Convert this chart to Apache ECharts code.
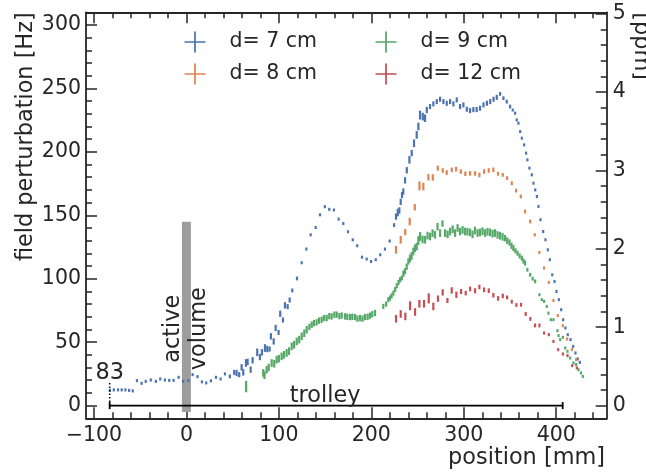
<!DOCTYPE html>
<html>
<head>
<meta charset="utf-8">
<script src="https://cdn.jsdelivr.net/npm/echarts@6/dist/echarts.min.js"></script>
<style>
  html, body { margin: 0; padding: 0; background: #ffffff; }
  #chart { width: 646px; height: 474px; }
</style>
</head>
<body>
<div id="chart"></div>
<script>
// Field perturbation along the trolley path, one errorbar series per distance d.
// Each point: [position in mm, perturbation in Hz, half error in Hz]
const seriesNames = ['d= 7 cm', 'd= 8 cm', 'd= 9 cm', 'd= 12 cm'];
const seriesColors = ['#4C72B0', '#DD8452', '#55A868', '#C44E52'];

const d7 = [
  [-82.8,12,1.2],[-78.5,12.4,1.2],[-74,12.4,1.2],[-70,12.4,1.2],[-66,12.4,1.2],[-62,12,1.2],[-58,11.6,1.2],
  [-53.5,19.7,1.2],[-48.5,17.6,1.2],[-44,19.1,1.2],[-38.5,20.2,1.2],[-33,19.1,1.2],[-28.3,21,1.2],
  [-23.3,20.2,1.2],[-18.6,19.9,1.2],[-13.9,19.9,1.2],[-8.4,22.3,1.2],[-3.5,19.1,1.2],[2,19.7,1.2],
  [6.7,24.4,1.2],[12,22.8,1.2],[16.8,18.7,1.2],[21.4,17.9,1.2],[26.5,19.5,1.2],[32,22.3,1.2],[37,21,1.2],
  [41.7,25,1.2],[47,23,1.5],[51.7,26.2,2],[54.3,25.7,2.5],[57.1,24.4,2],[59.7,30.2,2.5],[61.5,26.2,2.5],
  [64.4,33.6,3],[66.2,34.4,2.5],[69.5,28.3,2.5],[71.6,35.7,2.5],[76.6,42,3],[79.5,38.3,2.5],[81.7,42,2.5],
  [85,45.4,3],[87.5,44.6,2.5],[90,44.6,2],[91.4,54.6,2.5],[94.4,50.6,2.5],[96.5,61.2,2.5],[99.7,57.7,2],
  [101.5,72.4,2.5],[104.4,67.5,2],[106.6,79,2.5],[109.5,78,2],[111.7,83.2,2],[114.5,90.8,1.5],
  [119.6,100.2,1.5],[124.7,112.6,1.2],[129.7,123.4,1.2],[134.4,134.6,1.2],[139.8,140.4,1.2],
  [144.5,150.4,1.2],[149.7,156.8,1.2],[154.5,154.7,1.2],[159.6,154.2,1.2],[164.7,147,1.2],
  [169.7,143.5,1.2],[174.8,137,1.2],[179.9,130.7,1.2],[184.8,126,1.2],[189.9,117,1.2],[195,115.5,1.2],
  [199.7,113.6,1.2],[204.8,115,1.2],[209.7,118.9,1.2],[214.8,123.4,1.2],[219.9,129.7,1.2],
  [224.6,142.3,1.5],[226.7,149,2.5],[228.6,152.2,3],[230.3,153.8,2.5],[231.8,160.6,2.5],[233.2,166,2.5],
  [234.6,168.7,2.5],[236.5,177.5,2.5],[238.4,185.5,2.5],[241.2,193.7,3],[243.7,199,2.5],[246.2,206.8,3],
  [249.1,213.4,3],[250.9,220,3],[252.7,229,3.5],[255.7,227.8,3],[258.1,226.5,3],[260,233,2.5],
  [263.5,235.7,2],[267.1,237.8,2],[270.8,239.6,2],[274.4,241.5,2],[278,239.6,2],[281.6,238.3,2],
  [285.2,239.6,2],[288.8,237.8,2],[292.4,241,2],[296,235.7,2],[299.6,237,2],[303.3,233.6,2],
  [306.8,232.5,2],[310.4,233.3,2],[314,233.3,2],[317.6,234.4,2],[321.3,237,2],[325,238.3,2],
  [328.6,239.6,2],[332.2,241.5,2],[335.7,243,2],[339.3,245.7,1.5],[342.9,242.3,1.5],[346.5,239.6,1.5],
  [350.1,235.7,1.5],[353,233,1.2],[355.5,230.5,1.2],[357.3,225.2,1.2],[359.1,222.6,1.2],[361,216,1.2],
  [362.8,210.8,1.2],[365.3,205.5,1.2],[367.4,199,1.2],[368.8,193.7,1.2],[371,187.2,1.2],[373.6,181.9,1.2],
  [375.4,175.3,1.2],[377.3,170,1.2],[379.1,164.8,1.2],[380.8,157,1.2],[383,146.5,1.2],[385.9,137.2,1.2],
  [388.4,130.7,1.2],[390.9,122.8,1.2],[393.1,115,1.2],[395.7,103.1,1.2],[398.2,97.9,1.2],[400.3,90,1.2],
  [402.8,83.5,1.2],[405.4,75.6,1.2],[407.5,67.7,1.2],[410,61.2,1.2],[412.5,55.9,1.2],[415.5,52,1.2],
  [418.3,46.7,1.2],[420.8,41.5,1.2],[423.3,36.8,1.2],[425.5,34.1,1.2]
];

const d8 = [
  [226.7,122.8,3],[231.8,130.7,3],[236.7,136.8,2.5],[241.5,145.1,3],[247,156.3,2.5],[252.1,173.2,3.5],
  [256.3,172.6,3],[261.7,180,2.5],[266.5,179.8,2.5],[271.9,187.2,2],[277.3,185.3,1.8],[281.6,183.7,1.8],
  [287,185.8,1.8],[291.7,186.4,1.8],[296.8,184.5,1.8],[301.7,182.7,1.8],[306.8,183,1.8],[312.2,183,1.8],
  [316.9,181.8,1.8],[322,184.5,1.8],[327,185.3,1.8],[332,185.8,1.8],[337.1,182.7,1.5],[342.2,181.9,1.5],
  [346.9,179.3,1.5],[351.9,175.3,1.5],[356.6,169.5,1.5],[361.7,164.8,1.5],[366.3,153,1.5],
  [371.8,145.1,1.5],[376.8,134.6,1.2],[381.8,120.7,1.2],[386.9,108.4,1.2],[392,97.1,1.2],[397,82.9,1.2],
  [401.7,70.9,1.2],[407.1,63,1.2],[411.8,52.5,1.2],[416.9,44.1,1.2],[421.5,36.2,1.2]
];

const d9 = [
  [64.6,15,4.5],
  [83.1,25.7,3],[84.5,24,3],[86.8,28.3,3],[89,30,3],[92.2,33.6,3],[95,33,3],[97.6,36.2,3],[100,37,3],
  [103,38.8,3],[105.5,40,3],[108.4,41.5,3],[111,43,3],[113.9,46.7,3],[116.5,48,3],[119.3,50.6,3],
  [122,52,3],[124.7,54.6,3],[127.5,57,3],[130.1,59.8,3],[133,62,2.5],[135.5,63.8,2.5],[138,65,2.5],
  [140.9,65.6,2.5],[143.5,67,2.5],[146.3,67.7,2.5],[149,69,2.5],[151.7,69,2.5],[154.5,70.5,2.5],
  [157.1,70.3,2.5],[160,71.7,2.5],[162.6,71.7,2.5],[165.5,70.5,2.5],[168,71,2.5],[171.5,70.3,2.5],
  [174,70,2.5],[176.9,69.8,2.5],[179.5,70,2.5],[182.4,69.8,2.5],[185,68.5,2.5],[187.8,69,2.5],
  [190.5,68.5,2.5],[193.2,69.8,2.5],[196,70,2.5],[198.6,70.9,2.5],[201,72,2.5],[204,73,2.5],
  [213,78.2,2],[216,80,2],[218.4,83.5,2],[220.3,84.8,2],[222,86.5,2],[223.9,88.7,2],[225.8,91.5,2],
  [227.6,94.5,2],[229.4,97,2],[231.1,99.2,2],[233,100.6,2],[234.7,104,2.5],[236.5,106,2.5],
  [238.3,109.5,2.5],[240.1,113.6,2.5],[241.8,116,3],[243.6,118,3],[245.5,121.5,3],[247.2,124,3],
  [249.1,125.4,3],[250.9,130,3.5],[252.7,133.3,3.5],[255.4,131,3],[258.1,130.7,3],[260.8,134,3],
  [263.5,133.3,3],[266.2,136,3],[268.9,134.6,3],[271.6,141,3],[274.4,136,3],[277,143.5,2.5],
  [279.8,136,3],[282.5,135,3],[285.2,137.2,3],[288,139,3],[290.6,136,3],[293.3,140,3],[296,137.2,3],
  [298.7,138.5,3],[301.4,137.2,3],[304,137,3],[306.8,136.5,3],[309.5,135,3],[312.2,138,3],[315,136,3],
  [317.6,136.5,3],[320.3,137.5,3],[323,136,3],[325.7,137,3],[328.5,136.5,3],[331.2,135.5,3],
  [333.9,136,3],[336.6,134.5,3],[339.3,133.9,3],[342,133,3],[344.7,132,2.5],[347,130,2.5],
  [349.4,128.6,2.5],[351.6,126,2.5],[353.7,124.2,2.5],[355.9,122,2],[358.1,120.2,2],[360.4,118,2],
  [362.8,116.3,2],[364.5,114,2],[366.3,112.4,2],[368.8,107.1,1.5],[371.8,103.1,1.5],[374.5,100,1.5],
  [377.2,97.9,1.5],[381.8,87.4,1.2],[384.4,83.5,1.2],[386.9,82.2,1.2],[389.8,78.2,1.2],[391.6,72.9,1.2],
  [394.2,67.7,1.2],[397,67.7,1.2],[401.3,59.1,1.2],[402.5,55.1,1.2],[404.3,52,1.2],[407.2,53.8,1.2],
  [409.7,45.4,1.2],[412.2,42.8,1.2],[415.1,37.5,1.2],[418.7,33.6,1.2],[421.6,32.3,1.2],[424.1,28.3,1.2],
  [426.7,25.7,1.2],[428.8,23,1.2]
];

const d12 = [
  [226.7,68.5,3],[231.8,72.2,3],[236.8,70.3,3],[241.9,78.7,3.5],[247.3,73.8,3],[252,80.3,3],[257,80.3,3],
  [262.1,84.5,4],[267.1,78.2,3],[272.1,84.3,2.5],[277.2,89.2,2.5],[282.3,82.9,2],[287,90.8,2.5],
  [292,87.4,2.5],[297.1,89.9,2],[302.1,88.7,1.8],[306.8,92,1.8],[312.2,90.5,2],[316.9,93.5,1.8],
  [322,91.3,1.8],[327,90.6,1.8],[332,87,1.8],[337.1,84.5,1.8],[342.2,86.4,1.8],[346.9,85.3,1.5],
  [351.9,81.9,1.5],[356.9,79.3,1.5],[362,79.5,1.5],[367,72.2,1.5],[372,68.3,1.5],[377.1,63.2,1.5],
  [381.8,63.2,1.5],[386.9,57.2,1.2],[392,55.9,1.2],[397,50.6,1.2],[402.1,44.1,1.2],[407.2,40.7,1.2],
  [412.2,39.4,1.2],[417.3,31.5,1.2],[422.3,29.7,1.2]
];

// Axis ranges and ticks
const xRange = [-108.6, 454.6];
const yRange = [-10, 310];
const HZ_PER_PPM = 61.79;
const xMajorTicks = [-100, 0, 100, 200, 300, 400];
const xMinorTicks = [-100,-80,-60,-40,-20,0,20,40,60,80,100,120,140,160,180,200,220,240,260,280,300,320,340,360,380,400,420,440];
const yMajorTicks = [0, 50, 100, 150, 200, 250, 300];
const ppmMajorTicks = [0, 1, 2, 3, 4, 5];
const ppmMinorTicks = [0,0.2,0.4,0.6,0.8,1,1.2,1.4,1.6,1.8,2,2.2,2.4,2.6,2.8,3,3.2,3.4,3.6,3.8,4,4.2,4.4,4.6,4.8,5];

// Markers along the path
const trolleySpan = [[-83, 0], [407, 0]];
const trolleyStartMark = [[-83, 0], [-83, 19]];
const activeVolumeBar = [[0, -5], [0, 145]];
const annotations = [
  { x: -83, y: 25.2, text: '83', rot: 0 },
  { x: 150, y: 7.6, text: 'trolley', rot: 0 },
  { x: 0, y: 60.6, text: 'active\nvolume', rot: Math.PI / 2 }
];

const INK = '#262626';
const FONT = 'DejaVu Sans';
const TICK_FS = 20.5;
const LABEL_FS = 22.4;

function minusFmt(v) {
  return v < 0 ? '\u2212' + Math.abs(v) : String(v);
}

function errorbarSeries(name, data, color) {
  return {
    type: 'custom',
    name: name,
    xAxisIndex: 0,
    yAxisIndex: 0,
    data: data,
    encode: { x: 0, y: 1 },
    itemStyle: { color: color },
    z: 3,
    renderItem: function (params, api) {
      const x = api.value(0), y = api.value(1), e = api.value(2);
      const top = api.coord([x, y + e]);
      const bot = api.coord([x, y - e]);
      const w = 2.2;
      return {
        type: 'rect',
        shape: { x: top[0] - w / 2, y: top[1], width: w, height: Math.max(bot[1] - top[1], 2) },
        style: { fill: color }
      };
    }
  };
}

const axisLineStyle = { show: true, onZero: false, lineStyle: { color: INK, width: 1.8 } };
const noLine = { show: false, onZero: false };

function xAx(pos, ticks, len, labels, line) {
  return {
    type: 'value', position: pos, min: xRange[0], max: xRange[1],
    axisLine: line ? axisLineStyle : noLine,
    splitLine: { show: false },
    axisTick: { show: true, inside: true, length: len, customValues: ticks, lineStyle: { color: INK, width: 1.5 } },
    axisLabel: labels ? {
      show: true, customValues: xMajorTicks, formatter: minusFmt, margin: 7,
      color: INK, fontSize: TICK_FS, fontFamily: FONT
    } : { show: false }
  };
}

function yAx(pos, range, ticks, len, labelTicks, line, margin) {
  return {
    type: 'value', position: pos, min: range[0], max: range[1],
    axisLine: line ? axisLineStyle : noLine,
    splitLine: { show: false },
    axisTick: { show: true, inside: true, length: len, customValues: ticks, lineStyle: { color: INK, width: 1.5 } },
    axisLabel: labelTicks ? {
      show: true, customValues: labelTicks, formatter: minusFmt, margin: margin,
      color: INK, fontSize: TICK_FS, fontFamily: FONT
    } : { show: false }
  };
}

const ppmRange = [yRange[0] / HZ_PER_PPM, yRange[1] / HZ_PER_PPM];
const yMinorTicks = [];
for (let v = -10; v <= 310; v += 10) yMinorTicks.push(v);

const crossIcon = 'path://M10,0h1.8v21.8h-1.8z M0,10h21.8v1.8h-21.8z';
const legendText = { color: INK, fontSize: TICK_FS, fontFamily: FONT, padding: [0, 0, 0, 19] };

const chart = echarts.init(document.getElementById('chart'), null, { renderer: 'canvas' });

chart.setOption({
  animation: false,
  backgroundColor: '#ffffff',
  textStyle: { fontFamily: FONT },
  grid: { left: 86, top: 12.3, right: 39.3, bottom: 55.7, containLabel: false, outerBoundsMode: 'none' },
  legend: [
    {
      data: [seriesNames[0], seriesNames[1]], orient: 'vertical', left: 179.5, top: 26.5,
      itemWidth: 21, itemHeight: 21, itemGap: 11, icon: crossIcon, textStyle: legendText, selectedMode: false
    },
    {
      data: [seriesNames[2], seriesNames[3]], orient: 'vertical', left: 370.5, top: 26.5,
      itemWidth: 21, itemHeight: 21, itemGap: 11, icon: crossIcon, textStyle: legendText, selectedMode: false
    }
  ],
  xAxis: [
    xAx('bottom', xMajorTicks, 11, true, true),
    xAx('bottom', xMinorTicks, 6, false, false),
    xAx('top', xMajorTicks, 11, false, true),
    xAx('top', xMinorTicks, 6, false, false)
  ],
  yAxis: [
    yAx('left', yRange, yMajorTicks, 11, yMajorTicks, true, 5),
    yAx('left', yRange, yMinorTicks, 6, null, false, 5),
    yAx('right', ppmRange, ppmMajorTicks, 11, ppmMajorTicks, true, 6),
    yAx('right', ppmRange, ppmMinorTicks, 6, null, false, 6)
  ],
  graphic: [
    {
      type: 'text', x: 605, y: 458,
      style: { text: 'position [mm]', fill: INK, fontSize: LABEL_FS, fontFamily: FONT, align: 'right', verticalAlign: 'middle' }
    },
    {
      type: 'text', x: 26.5, y: 12.3, rotation: Math.PI / 2,
      style: { text: 'field perturbation [Hz]', fill: INK, fontSize: LABEL_FS, fontFamily: FONT, align: 'right', verticalAlign: 'middle' }
    },
    {
      type: 'text', x: 641, y: 12.3, rotation: -Math.PI / 2,
      style: { text: '[ppm]', fill: INK, fontSize: LABEL_FS, fontFamily: FONT, align: 'left', verticalAlign: 'middle' }
    }
  ],
  series: [
    {
      type: 'line', name: 'active volume', data: activeVolumeBar, xAxisIndex: 0, yAxisIndex: 0,
      showSymbol: false, symbol: 'none', silent: true, z: 1,
      lineStyle: { color: '#9d9d9d', width: 9, cap: 'butt' }
    },
    errorbarSeries(seriesNames[0], d7, seriesColors[0]),
    errorbarSeries(seriesNames[1], d8, seriesColors[1]),
    errorbarSeries(seriesNames[2], d9, seriesColors[2]),
    errorbarSeries(seriesNames[3], d12, seriesColors[3]),
    {
      type: 'line', name: 'trolley', data: trolleySpan, xAxisIndex: 0, yAxisIndex: 0,
      symbol: 'rect', symbolSize: [1.8, 7], showSymbol: true, silent: true, z: 4,
      itemStyle: { color: '#000000' },
      lineStyle: { color: '#000000', width: 1.8 }
    },
    {
      type: 'line', name: 'trolley start', data: trolleyStartMark, xAxisIndex: 0, yAxisIndex: 0,
      symbol: 'none', silent: true, z: 4,
      lineStyle: { color: '#000000', width: 1.5, type: [1.5, 2] }
    },
    {
      type: 'custom', name: 'labels', xAxisIndex: 0, yAxisIndex: 0, silent: true, z: 5,
      data: annotations.map(a => [a.x, a.y]),
      encode: { x: 0, y: 1 },
      renderItem: function (params, api) {
        const a = annotations[params.dataIndex];
        const p = api.coord([a.x, a.y]);
        return {
          type: 'text', x: p[0], y: p[1], rotation: a.rot,
          style: {
            text: a.text, fill: INK, fontSize: LABEL_FS, fontFamily: FONT,
            align: 'center', verticalAlign: 'middle', lineHeight: 26
          }
        };
      }
    }
  ]
});
</script>
</body>
</html>
